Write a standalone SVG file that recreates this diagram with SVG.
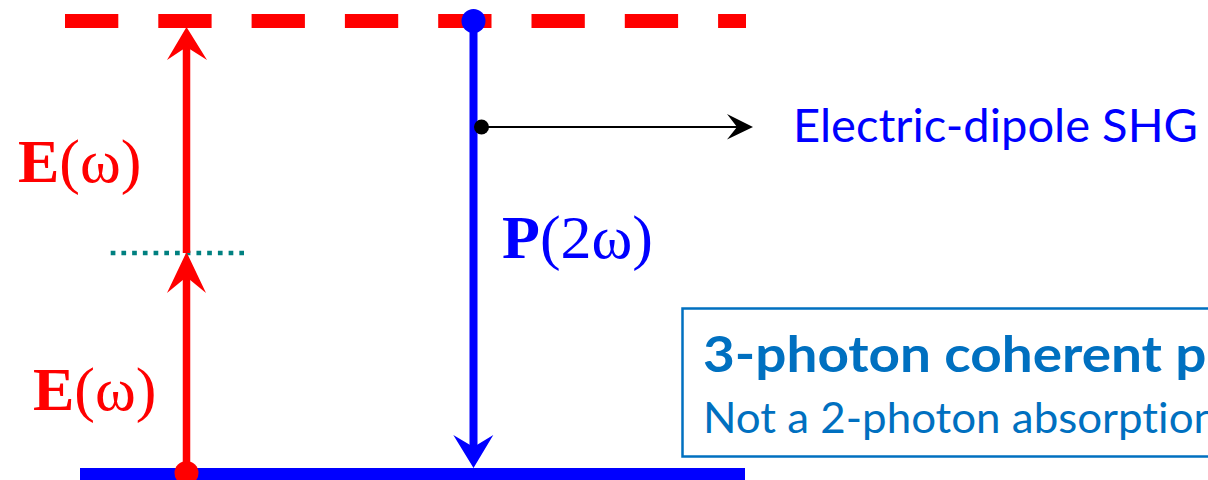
<svg xmlns="http://www.w3.org/2000/svg" width="1208" height="480" viewBox="0 0 1208 480">
  <style>
    .serif { font-family: "Liberation Serif", "Times New Roman", serif; font-size: 62px; }
    .red { fill: #ff0000; }
    .blue { fill: #0000ff; }
    .sans { font-family: Lato, "Open Sans", "Liberation Sans", sans-serif; font-variant-ligatures: none; }
    .boxtxt { fill: #0070c0; }
  </style>
  <rect width="1208" height="480" fill="#ffffff"/>

  <g id="upper-level">
    <line x1="65" y1="21" x2="746" y2="21" stroke="#ff0000" stroke-width="14" stroke-dasharray="53.3 40"/>
  </g>
  <g id="ground-level">
    <line x1="80" y1="474" x2="745" y2="474" stroke="#0000ff" stroke-width="12"/>
  </g>
  <g id="virtual-level">
    <line x1="110.7" y1="253" x2="244" y2="253" stroke="#008080" stroke-width="4.7" stroke-dasharray="4.7 6.02"/>
  </g>

  <g id="connectors">
    <!-- lower E(omega) arrow -->
    <line x1="186.5" y1="473" x2="186.5" y2="276" stroke="#ff0000" stroke-width="7.5"/>
    <polygon points="186.5,252 206,293 186.5,277 167,293" fill="#ff0000"/>
    <!-- upper E(omega) arrow -->
    <line x1="186.5" y1="253" x2="186.5" y2="47" stroke="#ff0000" stroke-width="7.5"/>
    <polygon points="186.5,27 207,60 186.5,47 167,60" fill="#ff0000"/>
    <circle cx="186.5" cy="473" r="12" fill="#ff0000"/>
    <!-- P(2omega) arrow -->
    <line x1="473.5" y1="21" x2="473.5" y2="448" stroke="#0000ff" stroke-width="8"/>
    <polygon points="473.5,468 493.3,435 473.5,447 453.3,435" fill="#0000ff"/>
    <circle cx="473.5" cy="21" r="12" fill="#0000ff"/>
    <!-- SHG emission arrow -->
    <line x1="481.5" y1="127" x2="740" y2="127" stroke="#000000" stroke-width="2"/>
    <polygon points="753,127 727,114 737,127 727,139.5" fill="#000000"/>
    <circle cx="481.5" cy="127" r="7.5" fill="#000000"/>
  </g>

  <g id="label-E-upper">
    <text class="serif red" x="18" y="182"><tspan font-weight="bold">E</tspan>(ω)</text>
  </g>
  <g id="label-E-lower">
    <text class="serif red" x="33" y="410"><tspan font-weight="bold">E</tspan>(ω)</text>
  </g>
  <g id="label-P">
    <text class="serif blue" x="502" y="258"><tspan font-weight="bold">P</tspan>(2ω)</text>
  </g>
  <g id="label-SHG">
    <text class="sans blue" x="793" y="142" font-size="47" textLength="405" lengthAdjust="spacingAndGlyphs">Electric-dipole SHG</text>
  </g>

  <g id="note-box">
    <rect x="682.5" y="308.5" width="600" height="148" fill="#ffffff" stroke="#0070c0" stroke-width="2.5"/>
    <text class="sans boxtxt" x="703" y="372" font-size="50" font-weight="bold" textLength="524" lengthAdjust="spacingAndGlyphs">3-photon coherent pr</text>
    <text class="sans boxtxt" x="703" y="433" font-size="43" textLength="515" lengthAdjust="spacingAndGlyphs">Not a 2-photon absorption</text>
  </g>
</svg>
